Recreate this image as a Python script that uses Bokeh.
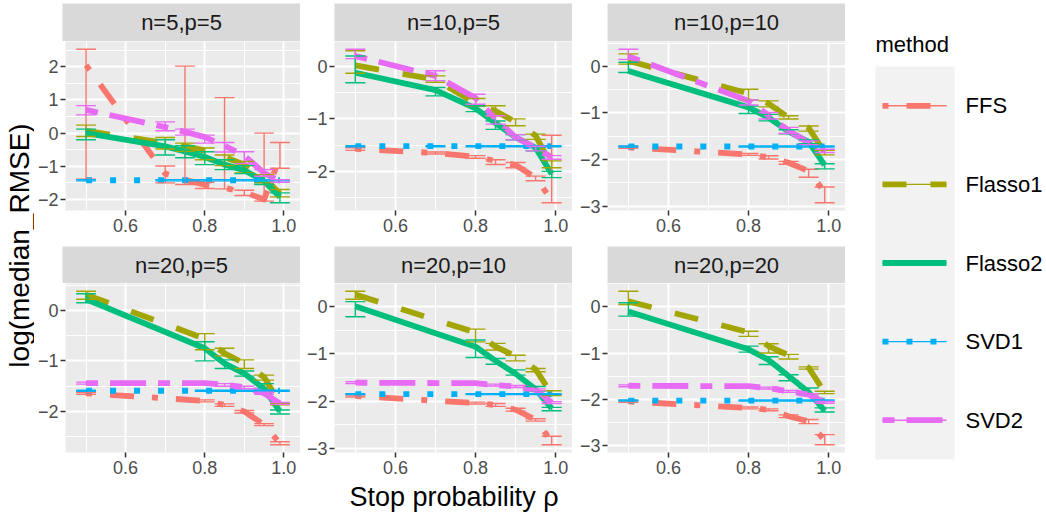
import numpy as np
from bokeh.plotting import figure
from bokeh.models import Range1d, FixedTicker, CustomJSTickFormatter
from bokeh.layouts import row, column
from bokeh.core.properties import value
from bokeh.embed import file_html
from bokeh.resources import INLINE

# ---------------- data ----------------
METHODS = ["FFS", "Flasso1", "Flasso2", "SVD1", "SVD2"]
PANEL_TITLES = ["n=5,p=5", "n=10,p=5", "n=10,p=10", "n=20,p=5", "n=20,p=10", "n=20,p=20"]
X_TICKS = [0.6, 0.8, 1.0]
X_MINOR = [0.5, 0.7, 0.9]
X_TITLE = "Stop probability \u03c1"
Y_TITLE = "log(median_RMSE)"
LEGEND_TITLE = "method"

RHO_P1 = [0.5, 0.7, 0.75, 0.8, 0.85, 0.9, 0.95, 0.99]
RHO_P2 = [0.5, 0.7, 0.8, 0.85, 0.9, 0.95, 0.99]
RHO_P3 = [0.5, 0.8, 0.85, 0.9, 0.95, 0.99]
RHO_P4 = [0.5, 0.8, 0.85, 0.9, 0.95, 0.99]
RHO_P5 = [0.5, 0.8, 0.85, 0.9, 0.95, 0.99]
RHO_P6 = [0.5, 0.8, 0.85, 0.9, 0.95, 0.99]

Y_TICKS_P1 = [-2, -1, 0, 1, 2]
Y_TICKS_P2 = [-2, -1, 0]
Y_TICKS_P3 = [-3, -2, -1, 0]
Y_TICKS_P4 = [-2, -1, 0]
Y_TICKS_P5 = [-3, -2, -1, 0]
Y_TICKS_P6 = [-3, -2, -1, 0]

# n=5,p=5
MED_P1 = dict(FFS=[2.05, -1.22, -1.41, -1.55, -1.65, -1.78, -2.00, -0.72],
              Flasso1=[0.07, -0.30, -0.40, -0.52, -0.72, -0.95, -1.35, -1.82],
              Flasso2=[0.00, -0.40, -0.55, -0.72, -0.95, -1.12, -1.45, -1.92],
              SVD1=[-1.42, -1.42, -1.42, -1.42, -1.42, -1.42, -1.42, -1.42],
              SVD2=[0.70, 0.18, 0.04, -0.12, -0.38, -0.68, -1.20, -1.45])
LO_P1 = dict(FFS=[-1.39, -1.50, -1.55, -1.67, -1.68, -1.88, -2.05, -1.06],
             Flasso1=[-0.10, -0.48, -0.55, -0.80, -0.98, -1.20, -1.50, -1.92],
             Flasso2=[-0.20, -0.66, -0.74, -0.95, -1.10, -1.22, -1.55, -2.10],
             SVD1=[-1.44, -1.44, -1.44, -1.44, -1.44, -1.44, -1.44, -1.44],
             SVD2=[0.55, 0.07, -0.06, -0.30, -0.57, -0.92, -1.30, -1.48])
HI_P1 = dict(FFS=[2.53, -0.99, 2.02, -1.48, 1.07, -1.72, 0.00, -0.28],
             Flasso1=[0.24, -0.13, -0.30, -0.45, -0.66, -0.85, -1.25, -1.70],
             Flasso2=[0.12, -0.20, -0.38, -0.56, -0.80, -0.98, -1.31, -1.80],
             SVD1=[-1.40, -1.40, -1.40, -1.40, -1.40, -1.40, -1.40, -1.40],
             SVD2=[0.83, 0.34, 0.12, -0.06, -0.28, -0.56, -1.10, -1.40])

# n=10,p=5
MED_P2 = dict(FFS=[-1.57, -1.65, -1.72, -1.80, -1.88, -2.12, -2.55],
              Flasso1=[0.02, -0.25, -0.70, -0.85, -1.06, -1.32, -1.90],
              Flasso2=[-0.12, -0.45, -0.80, -1.08, -1.35, -1.55, -2.05],
              SVD1=[-1.52, -1.52, -1.52, -1.52, -1.52, -1.52, -1.52],
              SVD2=[0.20, -0.18, -0.60, -1.00, -1.35, -1.55, -1.73])
LO_P2 = dict(FFS=[-1.60, -1.67, -1.75, -1.87, -1.93, -2.18, -2.60],
             Flasso1=[-0.13, -0.30, -0.76, -0.94, -1.13, -1.39, -1.93],
             Flasso2=[-0.31, -0.56, -0.86, -1.20, -1.40, -1.61, -2.12],
             SVD1=[-1.53, -1.53, -1.53, -1.53, -1.53, -1.53, -1.53],
             SVD2=[0.15, -0.27, -0.72, -1.10, -1.40, -1.61, -1.77])
HI_P2 = dict(FFS=[-1.55, -1.63, -1.70, -1.78, -1.83, -2.09, -1.31],
             Flasso1=[0.30, -0.18, -0.61, -0.75, -1.00, -1.29, -1.80],
             Flasso2=[0.20, -0.40, -0.75, -1.04, -1.30, -1.52, -2.00],
             SVD1=[-1.51, -1.51, -1.51, -1.51, -1.51, -1.51, -1.51],
             SVD2=[0.33, -0.08, -0.53, -0.94, -1.30, -1.52, -1.70])

# n=10,p=10
MED_P3 = dict(FFS=[-1.74, -1.89, -1.95, -2.07, -2.25, -2.70],
              Flasso1=[0.12, -0.58, -0.80, -1.10, -1.32, -1.85],
              Flasso2=[-0.10, -0.88, -1.10, -1.40, -1.62, -2.12],
              SVD1=[-1.72, -1.72, -1.72, -1.72, -1.72, -1.72],
              SVD2=[0.22, -0.74, -1.05, -1.38, -1.64, -1.82])
LO_P3 = dict(FFS=[-1.76, -1.91, -1.99, -2.10, -2.38, -2.93],
             Flasso1=[0.05, -0.72, -0.87, -1.13, -1.39, -1.90],
             Flasso2=[-0.13, -1.01, -1.17, -1.45, -1.66, -2.20],
             SVD1=[-1.73, -1.73, -1.73, -1.73, -1.73, -1.73],
             SVD2=[0.15, -0.83, -1.13, -1.44, -1.68, -1.85])
HI_P3 = dict(FFS=[-1.72, -1.87, -1.92, -2.04, -2.21, -2.59],
             Flasso1=[0.27, -0.49, -0.74, -1.06, -1.28, -1.80],
             Flasso2=[0.09, -0.85, -1.03, -1.36, -1.58, -2.09],
             SVD1=[-1.71, -1.71, -1.71, -1.71, -1.71, -1.71],
             SVD2=[0.37, -0.72, -0.99, -1.31, -1.60, -1.78])

# n=20,p=5
MED_P4 = dict(FFS=[-1.64, -1.79, -1.87, -2.00, -2.26, -2.63],
              Flasso1=[0.31, -0.56, -0.85, -1.05, -1.32, -1.85],
              Flasso2=[0.22, -0.75, -1.05, -1.25, -1.55, -2.00],
              SVD1=[-1.59, -1.59, -1.59, -1.59, -1.59, -1.59],
              SVD2=[-1.44, -1.44, -1.47, -1.52, -1.64, -1.84])
LO_P4 = dict(FFS=[-1.66, -1.81, -1.90, -2.03, -2.28, -2.66],
             Flasso1=[0.22, -0.78, -0.90, -1.15, -1.38, -1.87],
             Flasso2=[0.15, -1.00, -1.15, -1.30, -1.60, -2.05],
             SVD1=[-1.60, -1.60, -1.60, -1.60, -1.60, -1.60],
             SVD2=[-1.46, -1.46, -1.50, -1.55, -1.66, -1.86])
HI_P4 = dict(FFS=[-1.62, -1.77, -1.85, -1.98, -2.24, -2.60],
             Flasso1=[0.38, -0.46, -0.75, -0.98, -1.28, -1.84],
             Flasso2=[0.33, -0.62, -0.98, -1.20, -1.45, -1.97],
             SVD1=[-1.58, -1.58, -1.58, -1.58, -1.58, -1.58],
             SVD2=[-1.42, -1.42, -1.45, -1.50, -1.62, -1.82])

# n=20,p=10
MED_P5 = dict(FFS=[-1.89, -2.04, -2.08, -2.18, -2.39, -2.85],
              Flasso1=[0.25, -0.55, -0.85, -1.05, -1.33, -1.85],
              Flasso2=[0.00, -0.85, -1.15, -1.42, -1.75, -2.15],
              SVD1=[-1.85, -1.85, -1.85, -1.85, -1.85, -1.85],
              SVD2=[-1.61, -1.62, -1.66, -1.69, -1.76, -2.03])
LO_P5 = dict(FFS=[-1.91, -2.06, -2.11, -2.21, -2.42, -2.92],
             Flasso1=[0.15, -0.75, -0.92, -1.15, -1.38, -1.88],
             Flasso2=[-0.22, -1.08, -1.22, -1.45, -1.78, -2.20],
             SVD1=[-1.86, -1.86, -1.86, -1.86, -1.86, -1.86],
             SVD2=[-1.63, -1.64, -1.68, -1.71, -1.78, -2.05])
HI_P5 = dict(FFS=[-1.87, -2.02, -2.05, -2.15, -2.37, -2.74],
             Flasso1=[0.32, -0.48, -0.78, -1.03, -1.31, -1.78],
             Flasso2=[0.10, -0.71, -1.10, -1.34, -1.69, -2.13],
             SVD1=[-1.84, -1.84, -1.84, -1.84, -1.84, -1.84],
             SVD2=[-1.59, -1.60, -1.64, -1.67, -1.74, -2.01])

# n=20,p=20
MED_P6 = dict(FFS=[-2.05, -2.19, -2.23, -2.37, -2.48, -2.90],
              Flasso1=[0.12, -0.55, -0.85, -1.05, -1.32, -1.85],
              Flasso2=[-0.10, -0.92, -1.15, -1.50, -1.85, -2.25],
              SVD1=[-2.03, -2.03, -2.03, -2.03, -2.03, -2.03],
              SVD2=[-1.71, -1.72, -1.76, -1.83, -1.90, -2.07])
LO_P6 = dict(FFS=[-2.07, -2.21, -2.25, -2.40, -2.53, -2.99],
             Flasso1=[0.05, -0.64, -1.00, -1.13, -1.35, -1.88],
             Flasso2=[-0.20, -0.98, -1.25, -1.60, -1.88, -2.28],
             SVD1=[-2.04, -2.04, -2.04, -2.04, -2.04, -2.04],
             SVD2=[-1.73, -1.74, -1.78, -1.85, -1.92, -2.09])
HI_P6 = dict(FFS=[-2.03, -2.17, -2.21, -2.34, -2.44, -2.77],
             Flasso1=[0.34, -0.53, -0.80, -1.03, -1.30, -1.83],
             Flasso2=[0.09, -0.85, -1.08, -1.47, -1.76, -2.19],
             SVD1=[-2.02, -2.02, -2.02, -2.02, -2.02, -2.02],
             SVD2=[-1.69, -1.70, -1.74, -1.81, -1.88, -2.05])

# ---------------- style ----------------
FONT = "Liberation Sans"
COLORS = {"FFS": "#F8766D", "Flasso1": "#A3A500", "Flasso2": "#00BF7D",
          "SVD1": "#00B0F6", "SVD2": "#E76BF3"}
DASHES = {"FFS": "6 18 24 18", "Flasso1": "24 24", "Flasso2": "solid",
          "SVD1": "6 18", "SVD2": "12 12 36 12"}
LW = 5.8
EW = 1.4
CAP = 0.05
FRAME_W, FRAME_H = 238, 169
BORDER_LEFT = [28, 34, 35]
YLAB_W = 34
LEG_W = 201
TOTAL_H = 516
TICK_FMT_X = CustomJSTickFormatter(code="return tick.toFixed(1);")
TICK_FMT_Y = CustomJSTickFormatter(
    code="return (tick < 0 ? '\\u2212' : '') + Math.abs(tick).toFixed(0);")

PANELS = [
    (RHO_P1, MED_P1, LO_P1, HI_P1, Y_TICKS_P1),
    (RHO_P2, MED_P2, LO_P2, HI_P2, Y_TICKS_P2),
    (RHO_P3, MED_P3, LO_P3, HI_P3, Y_TICKS_P3),
    (RHO_P4, MED_P4, LO_P4, HI_P4, Y_TICKS_P4),
    (RHO_P5, MED_P5, LO_P5, HI_P5, Y_TICKS_P5),
    (RHO_P6, MED_P6, LO_P6, HI_P6, Y_TICKS_P6),
]

all_rho = np.concatenate([np.array(pn[0]) for pn in PANELS])
x0, x1 = all_rho.min() - CAP / 2, all_rho.max() + CAP / 2
XR = (x0 - 0.05 * (x1 - x0), x1 + 0.05 * (x1 - x0))


def base_fig(w, h, bl=0, bb=0, bt=0, **kw):
    f = figure(width=w, height=h, min_border_left=bl, min_border_right=0,
               min_border_top=bt, min_border_bottom=bb,
               output_backend="svg", toolbar_location=None, title=None, **kw)
    f.outline_line_color = None
    f.border_fill_color = "white"
    return f


def make_panel(k, bl, bb):
    rho, med, lo, hi, yt = PANELS[k]
    vals = np.concatenate([np.array(d[m]) for d in (med, lo, hi) for m in METHODS])
    y0, y1 = vals.min(), vals.max()
    pad = 0.05 * (y1 - y0)
    p = base_fig(bl + FRAME_W, FRAME_H + bb, bl, bb,
                 x_range=Range1d(*XR), y_range=Range1d(y0 - pad, y1 + pad))
    p.background_fill_color = "#EBEBEB"
    xt = FixedTicker(ticks=X_TICKS, minor_ticks=X_MINOR)
    ymin = [t + 0.5 for t in yt] + [yt[0] - 0.5]
    ytk = FixedTicker(ticks=yt, minor_ticks=ymin)
    p.xaxis.ticker = xt
    p.xgrid.ticker = xt
    p.yaxis.ticker = ytk
    p.ygrid.ticker = ytk
    p.grid.grid_line_color = "white"
    p.grid.grid_line_width = 2
    p.grid.minor_grid_line_color = "white"
    p.grid.minor_grid_line_width = 1
    p.xaxis.formatter = TICK_FMT_X
    p.yaxis.formatter = TICK_FMT_Y
    for ax in (p.xaxis[0], p.yaxis[0]):
        ax.axis_line_color = None
        ax.major_tick_line_color = "#333333"
        ax.major_tick_line_width = 1.5
        ax.major_tick_in = 0
        ax.major_tick_out = 5
        ax.minor_tick_line_color = None
        ax.major_label_text_font = FONT
        ax.major_label_text_font_size = "18px"
        ax.major_label_text_color = "#4D4D4D"
    p.xaxis.major_label_standoff = 3
    p.yaxis.major_label_standoff = 2

    x = np.array(rho)
    for m in METHODS:
        p.line(x, med[m], line_color=COLORS[m], line_width=LW, line_dash=DASHES[m],
               line_join="round", line_cap="butt")
    for m in METHODS:
        l, h = np.array(lo[m]), np.array(hi[m])
        c = COLORS[m]
        p.segment(x0=x, y0=l, x1=x, y1=h, line_color=c, line_width=EW)
        p.segment(x0=x - CAP / 2, y0=l, x1=x + CAP / 2, y1=l, line_color=c, line_width=EW)
        p.segment(x0=x - CAP / 2, y0=h, x1=x + CAP / 2, y1=h, line_color=c, line_width=EW)
    return p


def make_strip(text, bl, h, bt):
    s = base_fig(bl + FRAME_W, h, bl, 0, bt, x_range=Range1d(0, 1), y_range=Range1d(0, 1),
                 x_axis_type=None, y_axis_type=None)
    s.background_fill_color = "#D9D9D9"
    s.text(x=[0.5], y=[0.5], text=[text], text_align="center", text_baseline="middle",
           text_font=value(FONT), text_font_size="22px", text_color="#1A1A1A")
    return s


top_strips = row(*[make_strip(PANEL_TITLES[i], BORDER_LEFT[i], 41, 3) for i in range(3)])
top_panels = row(*[make_panel(i, BORDER_LEFT[i], 36) for i in range(3)])
bot_strips = row(*[make_strip(PANEL_TITLES[3 + i], BORDER_LEFT[i], 37, 0) for i in range(3)])
bot_panels = row(*[make_panel(3 + i, BORDER_LEFT[i], 28) for i in range(3)])

main_w = sum(BORDER_LEFT) + 3 * FRAME_W
XLAB_H = TOTAL_H - (41 + 205 + 37 + 197)
xlab = base_fig(main_w, XLAB_H, BORDER_LEFT[0], 0, x_range=Range1d(0, 1),
                y_range=Range1d(XLAB_H, 0), x_axis_type=None, y_axis_type=None)
xlab.background_fill_color = "white"
xlab.text(x=[0.5], y=[16], text=[X_TITLE], text_align="center", text_baseline="middle",
          text_font=value(FONT), text_font_size="27px", text_color="black")

main = column(top_strips, top_panels, bot_strips, bot_panels, xlab)

ylab = base_fig(YLAB_W, TOTAL_H, 0, 0, x_range=Range1d(0, YLAB_W), y_range=Range1d(TOTAL_H, 0),
                x_axis_type=None, y_axis_type=None)
ylab.background_fill_color = "white"
ylab.text(x=[18.5], y=[245], text=[Y_TITLE], angle=np.pi / 2, text_align="center",
          text_baseline="middle", text_font=value(FONT), text_font_size="28px",
          text_color="black")

# legend panel (own pixel frame)
leg = base_fig(LEG_W, TOTAL_H, 0, 0, x_range=Range1d(0, LEG_W), y_range=Range1d(TOTAL_H, 0),
               x_axis_type=None, y_axis_type=None)
leg.background_fill_color = "white"
leg.text(x=[30], y=[44], text=[LEGEND_TITLE], text_align="left", text_baseline="middle",
         text_font=value(FONT), text_font_size="22px", text_color="black")
KEY_TOP, KEY_H = 66, 78.6
n = len(METHODS)
leg.quad(left=[30], right=[109], top=[KEY_TOP], bottom=[KEY_TOP + n * KEY_H],
         fill_color="#F2F2F2", line_color=None)
centers = [KEY_TOP + KEY_H * (i + 0.5) for i in range(n)]
for i, m in enumerate(METHODS):
    leg.line([37, 101], [centers[i], centers[i]], line_color=COLORS[m], line_width=LW,
             line_dash=DASHES[m], line_cap="butt")
    leg.line([37, 101], [centers[i], centers[i]], line_color=COLORS[m], line_width=EW)
leg.text(x=[120] * n, y=centers, text=METHODS, text_align="left", text_baseline="middle",
         text_font=value(FONT), text_font_size="22px", text_color="black")

layout = row(ylab, main, leg)

with open("out.html", "w", encoding="utf-8") as fh:
    fh.write(file_html(layout, INLINE))
